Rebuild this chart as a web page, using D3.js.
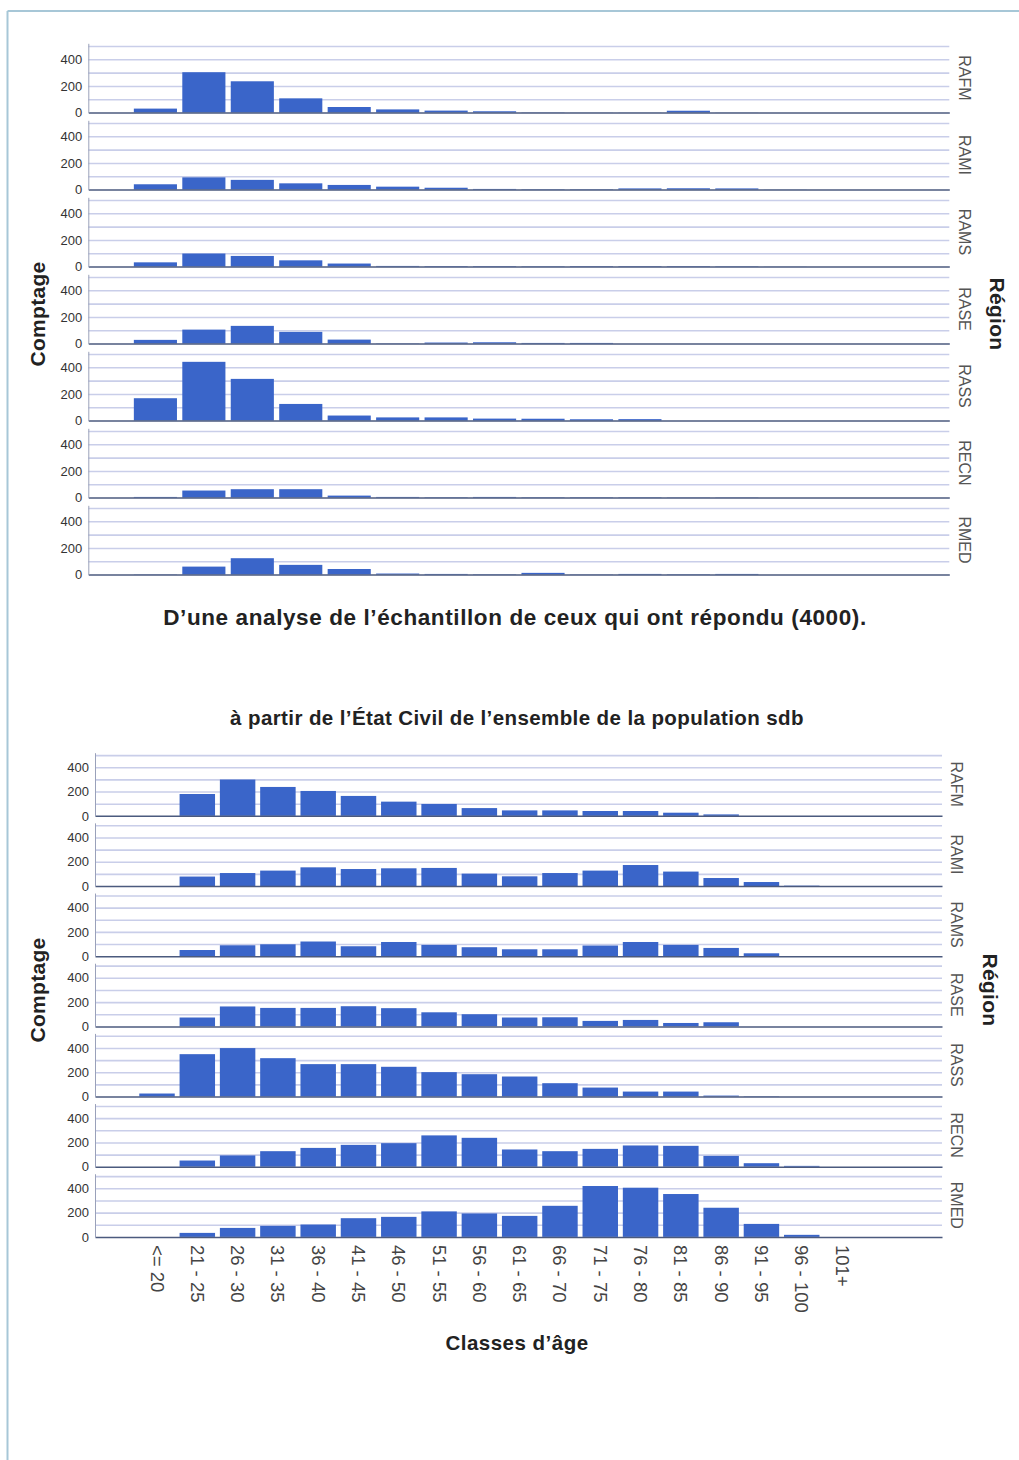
<!DOCTYPE html>
<html>
<head>
<meta charset="utf-8">
<script src="https://cdn.jsdelivr.net/npm/d3@7"></script>
<style>
  body { margin: 0; background: #fff; }
  text { font-family: "Liberation Sans", Arial, sans-serif; }
</style>
</head>
<body>
<script>
// regions (one small panel each) and age classes
const regions = ["RAFM", "RAMI", "RAMS", "RASE", "RASS", "RECN", "RMED"]
const ageClasses = ["<= 20", "21 - 25", "26 - 30", "31 - 35", "36 - 40", "41 - 45", "46 - 50",
  "51 - 55", "56 - 60", "61 - 65", "66 - 70", "71 - 75", "76 - 80", "81 - 85", "86 - 90",
  "91 - 95", "96 - 100", "101+"]
// the sample chart has no x labels, bins are only numbered
const sampleBins = ["b1", "b2", "b3", "b4", "b5", "b6", "b7", "b8", "b9", "b10", "b11", "b12", "b13", "b14", "b15", "b16"]

const gridValues = [100, 200, 300, 400, 500]
const tickLabels = [0, 200, 400]

// top chart : survey sample (4000 answers)
const sampleRAFM = [30, 303, 235, 107, 42, 24, 15, 10, 2, 1, 1, 14, 1, 0, 0, 0]
const sampleRAMI = [40, 92, 73, 47, 35, 22, 14, 5, 3, 3, 9, 10, 9, 1, 0, 0]
const sampleRAMS = [32, 98, 80, 47, 23, 5, 4, 4, 3, 4, 4, 4, 3, 1, 0, 0]
const sampleRASE = [28, 105, 133, 88, 30, 2, 8, 10, 5, 5, 0, 0, 0, 0, 0, 0]
const sampleRASS = [168, 441, 313, 125, 38, 24, 24, 15, 14, 10, 11, 0, 0, 0, 0, 0]
const sampleRECN = [5, 53, 63, 63, 15, 5, 3, 5, 3, 3, 3, 2, 2, 0, 0, 0]
const sampleRMED = [2, 60, 123, 73, 42, 8, 5, 3, 13, 2, 5, 3, 5, 0, 0, 0]

// bottom chart : civil registry, whole population
const civilRAFM = [0, 180, 299, 238, 205, 164, 117, 98, 64, 45, 45, 40, 40, 26, 12, 0, 0, 0]
const civilRAMI = [0, 78, 107, 127, 154, 140, 146, 149, 102, 80, 107, 127, 173, 119, 66, 33, 3, 0]
const civilRAMS = [0, 51, 90, 98, 121, 82, 117, 93, 74, 57, 57, 88, 117, 93, 68, 24, 0, 0]
const civilRASE = [0, 73, 164, 152, 152, 166, 150, 116, 100, 73, 75, 45, 53, 28, 34, 0, 0, 0]
const civilRASS = [25, 349, 399, 316, 267, 267, 245, 201, 184, 165, 110, 74, 41, 41, 8, 3, 0, 0]
const civilRECN = [0, 51, 93, 128, 155, 180, 194, 258, 238, 142, 128, 147, 175, 172, 89, 29, 7, 0]
const civilRMED = [0, 33, 74, 91, 102, 154, 165, 210, 193, 173, 256, 419, 405, 353, 240, 107, 17, 0]

const W = 1019, H = 1460
const yMax = 520
const barColor = "#3a65c9"

const svg = d3.select("body").append("svg")
  .attr("width", W)
  .attr("height", H)

// page frame (top and left rules)
svg.append("line").attr("x1", 7.5).attr("x2", W).attr("y1", 11).attr("y2", 11)
  .attr("stroke", "#a7c7d7").attr("stroke-width", 2)
svg.append("line").attr("x1", 7.5).attr("x2", 7.5).attr("y1", 11).attr("y2", H)
  .attr("stroke", "#a7c7d7").attr("stroke-width", 2)

function drawChart(cfg) {
  const x = d3.scaleBand()
    .domain(cfg.keys)
    .range([cfg.left, cfg.right])
    .paddingInner(cfg.padInner)
    .paddingOuter(cfg.padOuter)
    .align(cfg.align)
  const rows = d3.scaleBand()
    .domain(regions)
    .range([cfg.top, cfg.bottom])
    .paddingInner(0.1)
  const h = rows.bandwidth()
  const y = d3.scaleLinear().domain([0, yMax]).range([h, 0])
  const w = cfg.right - cfg.left

  regions.forEach((r, k) => {
    const g = svg.append("g").attr("transform", `translate(0,${rows(r)})`)

    // horizontal grid
    const grid = g.append("g")
      .attr("transform", `translate(${cfg.left},0)`)
      .call(d3.axisLeft(y).tickValues(gridValues).tickSize(-w).tickFormat(""))
    grid.select(".domain").remove()
    grid.selectAll("line").attr("stroke", "#c9cee9").attr("stroke-width", 1.6)

    // bars
    g.selectAll("rect")
      .data(cfg.values[k])
      .join("rect")
      .attr("x", (d, i) => x(cfg.keys[i]))
      .attr("y", d => y(d))
      .attr("width", x.bandwidth())
      .attr("height", d => h - y(d))
      .attr("fill", barColor)

    // baseline (with labels on the last panel of the bottom chart)
    const last = cfg.labels && k == regions.length - 1
    const xa = g.append("g")
      .attr("transform", `translate(0,${y(0)})`)
      .call(d3.axisBottom(x).tickSize(0).tickFormat(last ? (d, i) => cfg.labels[i] : ""))
    xa.select(".domain").attr("stroke", "#4b5a7e").attr("stroke-width", 1.5)
    if (last) {
      xa.selectAll("text")
        .attr("transform", "rotate(90)")
        .attr("x", 8)
        .attr("y", 0)
        .attr("dy", "0.35em")
        .attr("text-anchor", "start")
        .attr("font-size", 18.5)
        .attr("font-family", "Liberation Sans, Arial, sans-serif")
        .attr("fill", "#444")
    }

    // left axis
    const ya = g.append("g")
      .attr("transform", `translate(${cfg.left},0)`)
      .call(d3.axisLeft(y).tickValues(tickLabels).tickSize(0).tickPadding(6).tickSizeOuter(0))
    ya.select(".domain").attr("stroke", "#9aa1ba").attr("stroke-width", 1)
    ya.selectAll("text")
      .attr("font-size", 13)
      .attr("font-family", "Liberation Sans, Arial, sans-serif")
      .attr("fill", "#333")

    // region name on the right
    g.append("text")
      .attr("transform", `translate(${cfg.regionX},${h / 2}) rotate(90)`)
      .attr("text-anchor", "middle")
      .attr("dy", "0.35em")
      .attr("font-size", 16)
      .attr("fill", "#555")
      .text(r)
  })

  svg.append("text")
    .attr("transform", `translate(${cfg.countX},${cfg.titleMid}) rotate(-90)`)
    .attr("text-anchor", "middle")
    .attr("dy", "0.35em")
    .attr("font-size", 21)
    .attr("letter-spacing", 0.3)
    .attr("font-weight", "bold")
    .attr("fill", "#222")
    .text("Comptage")
  svg.append("text")
    .attr("transform", `translate(${cfg.regionTitleX},${cfg.titleMid}) rotate(90)`)
    .attr("text-anchor", "middle")
    .attr("dy", "0.35em")
    .attr("font-size", 21)
    .attr("letter-spacing", 0.3)
    .attr("font-weight", "bold")
    .attr("fill", "#222")
    .text("Région")
}

drawChart({
  keys: sampleBins,
  values: [sampleRAFM, sampleRAMI, sampleRAMS, sampleRASE, sampleRASS, sampleRECN, sampleRMED],
  left: 88.3, right: 949.3, padInner: 0.11, padOuter: 0.94, align: 0.5,
  top: 43.3, bottom: 574.6,
  regionX: 965, countX: 38, regionTitleX: 997, titleMid: 314
})

drawChart({
  keys: ageClasses,
  labels: ageClasses,
  values: [civilRAFM, civilRAMI, civilRAMS, civilRASE, civilRASS, civilRECN, civilRMED],
  left: 95, right: 942, padInner: 0.12, padOuter: 1.57, align: 0.35,
  top: 752.7, bottom: 1236.9,
  regionX: 957, countX: 38, regionTitleX: 990, titleMid: 990
})

// titles
svg.append("text")
  .attr("x", 515).attr("y", 625)
  .attr("text-anchor", "middle")
  .attr("font-size", 22.5)
  .attr("letter-spacing", 0.6)
  .attr("font-weight", "bold")
  .attr("fill", "#222")
  .text("D’une analyse de l’échantillon de ceux qui ont répondu (4000).")

svg.append("text")
  .attr("x", 517).attr("y", 725)
  .attr("text-anchor", "middle")
  .attr("font-size", 20.5)
  .attr("letter-spacing", 0.4)
  .attr("font-weight", "bold")
  .attr("fill", "#222")
  .text("à partir de l’État Civil de l’ensemble de la population sdb")

svg.append("text")
  .attr("x", 517).attr("y", 1350)
  .attr("text-anchor", "middle")
  .attr("font-size", 20.5)
  .attr("letter-spacing", 0.5)
  .attr("font-weight", "bold")
  .attr("fill", "#222")
  .text("Classes d’âge")
</script>
</body>
</html>
